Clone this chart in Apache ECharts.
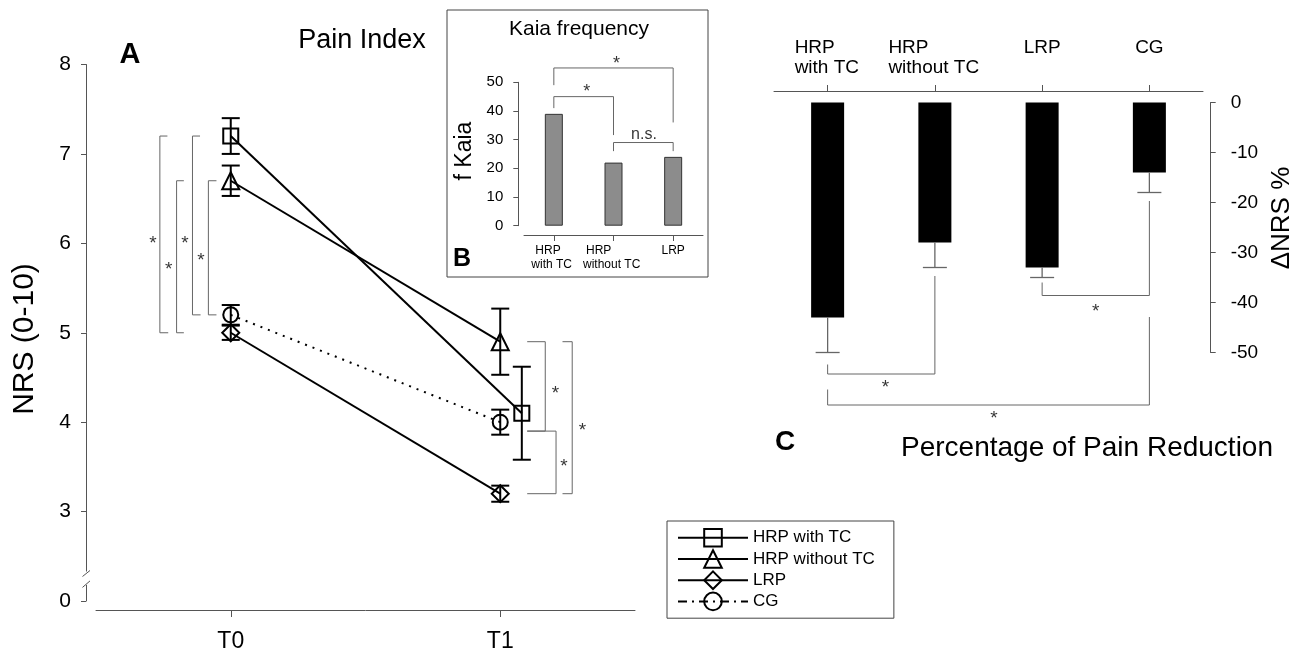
<!DOCTYPE html>
<html><head><meta charset="utf-8">
<script src="https://cdn.jsdelivr.net/npm/echarts@6/dist/echarts.min.js"></script>
<style>html,body{margin:0;padding:0;background:#fff}#c{width:1298px;height:656px}</style>
</head><body><div id="c"></div>
<script>
// ---------------- data ----------------
const timeLabels = ['T0', 'T1'];
const groupNames = ['HRP with TC', 'HRP without TC', 'LRP', 'CG'];
const nrsT0 = [7.2, 6.7, 5.0, 5.2];
const nrsT0Err = [0.2, 0.17, 0.08, 0.11];
const nrsT1 = [4.1, 4.9, 3.2, 4.0];
const nrsT1Err = [0.52, 0.37, 0.09, 0.14];
const nrsTickLabels = { 2: '0', 3: '3', 4: '4', 5: '5', 6: '6', 7: '7', 8: '8' };
const kaiaGroups = ['HRP\nwith TC', 'HRP\nwithout TC', 'LRP'];
const kaiaFreq = [39, 22, 24];
const reduction = [-43, -28, -33, -14];
const reductionErr = [7, 5, 2, 4];

// ---------------- annotation geometry (data units) ----------------
const t1Dodge = [0.08, 0, 0, 0];
const bracketsA = [
  [[-0.235, 7.2], [-0.263, 7.2], [-0.263, 5.0], [-0.232, 5.0]],
  [[-0.174, 6.7], [-0.201, 6.7], [-0.201, 5.0], [-0.174, 5.0]],
  [[-0.114, 7.2], [-0.142, 7.2], [-0.142, 5.2], [-0.112, 5.2]],
  [[-0.053, 6.7], [-0.083, 6.7], [-0.083, 5.2], [-0.053, 5.2]],
  [[1.10, 4.9], [1.167, 4.9], [1.167, 3.9], [1.10, 3.9]],
  [[1.10, 3.9], [1.207, 3.9], [1.207, 3.2], [1.10, 3.2]],
  [[1.231, 4.9], [1.267, 4.9], [1.267, 3.2], [1.231, 3.2]]
];
const starsA = [[-0.289, 6.04, '*'], [-0.23, 5.75, '*'], [-0.17, 6.04, '*'], [-0.111, 5.85, '*'],
  [1.205, 4.36, '*'], [1.236, 3.55, '*'], [1.305, 3.95, '*']];
const bracketsB = [
  [[0, 49], [0, 55], [2, 55], [2, 36]],
  [[0, 41], [0, 45], [1, 45], [1, 31.6]],
  [[1, 26], [1, 29], [2, 29], [2, 26]]
];
const starsB = [[1.05, 57.7, '*'], [0.55, 48, '*'], [1.51, 31.6, 'n.s.']];
const bracketsC = [
  [[2, -36], [2, -38.6], [3, -38.6], [3, -19.7]],
  [[0, -52.4], [0, -54.3], [1, -54.3], [1, -34.7]],
  [[0, -57.4], [0, -60.5], [3, -60.5], [3, -42.9]]
];
const starsC = [[2.5, -41, '*'], [0.54, -56.2, '*'], [1.55, -62.4, '*']];

// ---------------- chart ----------------
const FONT = "'Liberation Sans', Arial, Helvetica, sans-serif";
const AX = '#555';
const chart = echarts.init(document.getElementById('c'));

const symbolsA = ['rect', 'triangle', 'diamond', 'circle'];
const symSizeA = [15, 17, 17, 15];

function errA(params, api) {
  const x = api.value(0), y = api.value(1), e = api.value(2);
  const t = api.coord([x, y + e]), b = api.coord([x, y - e]);
  const hw = 9, st = { stroke: '#000', lineWidth: 2 };
  return { type: 'group', children: [
    { type: 'line', shape: { x1: t[0], y1: t[1], x2: b[0], y2: b[1] }, style: st },
    { type: 'line', shape: { x1: t[0] - hw, y1: t[1], x2: t[0] + hw, y2: t[1] }, style: st },
    { type: 'line', shape: { x1: b[0] - hw, y1: b[1], x2: b[0] + hw, y2: b[1] }, style: st }
  ]};
}
function errC(params, api) {
  const i = api.value(0), v = api.value(1), e = api.value(2);
  const a = api.coord([i, v]), b = api.coord([i, v - e]);
  const st = { stroke: '#666', lineWidth: 1.3 };
  return { type: 'group', children: [
    { type: 'line', shape: { x1: a[0], y1: a[1], x2: b[0], y2: b[1] }, style: st },
    { type: 'line', shape: { x1: b[0] - 12, y1: b[1], x2: b[0] + 12, y2: b[1] }, style: st }
  ]};
}
function bracketSeries(list, xi, yi) {
  return list.map(pts => ({
    type: 'line', xAxisIndex: xi, yAxisIndex: yi, data: pts, symbol: 'none', clip: false,
    silent: true, lineStyle: { color: '#666', width: 1 }, z: 1, animation: false
  }));
}
function starSeries(list, xi, yi, fs) {
  return {
    type: 'scatter', xAxisIndex: xi, yAxisIndex: yi, clip: false, silent: true, symbolSize: 2,
    itemStyle: { color: 'rgba(0,0,0,0)' }, z: 5,
    data: list.map(s => ({ value: [s[0], s[1]], name: s[2] })),
    label: { show: true, position: 'inside', formatter: p => p.name, color: '#000', fontSize: fs, fontFamily: FONT, offset: [0, 4] }
  };
}

const errDataA = [];
groupNames.forEach((g, i) => {
  errDataA.push([0, nrsT0[i], nrsT0Err[i]]);
  errDataA.push([1 + t1Dodge[i], nrsT1[i], nrsT1Err[i]]);
});

const lineSeriesA = groupNames.map((g, i) => ({
  type: 'line', name: g, xAxisIndex: 0, yAxisIndex: 0,
  data: [[0, nrsT0[i]], [1 + t1Dodge[i], nrsT1[i]]],
  symbol: symbolsA[i], symbolSize: symSizeA[i], z: 4,
  itemStyle: { color: 'rgba(255,255,255,0)', borderColor: '#000', borderWidth: 2 },
  lineStyle: { color: '#000', width: 2, type: i === 3 ? [2, 6] : 'solid' },
  emphasis: { disabled: true }
}));

const labelC = {
  'HRP with TC': '{w1|HRP}\n{w1|with TC}',
  'HRP without TC': '{w2|HRP}\n{w2|without TC}',
  'LRP': '{s|LRP}\n{s| }',
  'CG': '{s|CG}\n{s| }'
};
const labelB = {
  'HRP\nwith TC': '{h1|HRP}\n{b1|with TC}',
  'HRP\nwithout TC': '{h2|HRP}\n{b2|without TC}',
  'LRP': '{s|LRP}\n{s| }'
};

const option = {
  animation: false,
  backgroundColor: '#fff',
  textStyle: { fontFamily: FONT },
  grid: [
    { left: 96, right: 663, top: 64.5, bottom: 55, outerBoundsMode: 'none', containLabel: false },
    { left: 524, right: 595, top: 82.3, bottom: 430.3, outerBoundsMode: 'none', containLabel: false },
    { left: 774, right: 95, top: 102.5, bottom: 303.5, outerBoundsMode: 'none', containLabel: false }
  ],
  xAxis: [
    { gridIndex: 0, type: 'value', min: -0.5, max: 1.5, offset: 9,
      axisLine: { show: true, onZero: false, lineStyle: { color: AX, width: 1 } },
      axisTick: { show: true, customValues: [0, 1], length: 7, lineStyle: { color: AX } },
      axisLabel: { customValues: [0, 1], formatter: v => timeLabels[Math.round(v)], fontSize: 23, color: '#000', margin: 20, fontFamily: FONT },
      splitLine: { show: false } },
    { gridIndex: 1, type: 'category', data: kaiaGroups, offset: 9.3,
      axisLine: { show: true, onZero: false, lineStyle: { color: AX, width: 1 } },
      axisTick: { show: true, alignWithLabel: true, length: 6, lineStyle: { color: AX } },
      axisLabel: { interval: 0, color: '#000', fontSize: 12, margin: 9, fontFamily: FONT,
        formatter: v => labelB[v],
        rich: { h1: { width: 41, align: 'left', padding: [0, 0, 0, 4], fontSize: 12, lineHeight: 13.5 },
                b1: { width: 41, align: 'left', fontSize: 12, lineHeight: 13.5 },
                h2: { width: 58, align: 'left', padding: [0, 0, 0, 3], fontSize: 12, lineHeight: 13.5 },
                b2: { width: 58, align: 'left', fontSize: 12, lineHeight: 13.5 },
                s: { fontSize: 12, lineHeight: 13.5 } } },
      splitLine: { show: false } },
    { gridIndex: 2, type: 'category', data: groupNames, position: 'top', offset: 11.5,
      axisLine: { show: true, onZero: false, lineStyle: { color: AX, width: 1 } },
      axisTick: { show: true, alignWithLabel: true, length: 6, lineStyle: { color: AX } },
      axisLabel: { interval: 0, color: '#000', fontSize: 19, margin: 13, fontFamily: FONT,
        formatter: v => labelC[v],
        rich: { w1: { width: 66, align: 'left', fontSize: 19, lineHeight: 20 },
                w2: { width: 93, align: 'left', fontSize: 19, lineHeight: 20 },
                s: { fontSize: 19, lineHeight: 20 } } },
      splitLine: { show: false } },
    // hidden value axes for annotations positioned between categories
    { gridIndex: 1, type: 'value', min: -0.5, max: kaiaGroups.length - 0.5, show: false },
    { gridIndex: 2, type: 'value', min: -0.5, max: groupNames.length - 0.5, show: false }
  ],
  yAxis: [
    { gridIndex: 0, type: 'value', min: 2, max: 8, interval: 1, offset: 10,
      axisLine: { show: true, onZero: false, lineStyle: { color: AX, width: 1 } },
      axisTick: { show: true, length: 5, lineStyle: { color: AX } },
      axisLabel: { formatter: v => nrsTickLabels[v], fontSize: 21, color: '#000', margin: 15, fontFamily: FONT },
      splitLine: { show: false } },
    { gridIndex: 1, type: 'value', min: 0, max: 50, interval: 10, offset: 5.7,
      axisLine: { show: true, onZero: false, lineStyle: { color: AX, width: 1 } },
      axisTick: { show: true, length: 5, lineStyle: { color: AX } },
      axisLabel: { fontSize: 15, color: '#000', margin: 15, fontFamily: FONT },
      splitLine: { show: false } },
    { gridIndex: 2, type: 'value', min: -50, max: 0, interval: 10, position: 'right', offset: 7.7,
      axisLine: { show: true, onZero: false, lineStyle: { color: AX, width: 1 } },
      axisTick: { show: true, length: 5, lineStyle: { color: AX } },
      axisLabel: { fontSize: 19, color: '#000', margin: 20, fontFamily: FONT },
      splitLine: { show: false } }
  ],
  legend: {
    data: groupNames.map((g, i) => i === 3
      ? { name: g, lineStyle: { type: [9, 5, 2, 5], width: 2, color: '#000' } }
      : { name: g }),
    orient: 'vertical', left: 667, top: 521,
    itemWidth: 70, itemHeight: 22, itemGap: 1.6,
    padding: [7, 19, 7, 10], borderColor: '#444', borderWidth: 1,
    textStyle: { fontSize: 17, color: '#000', fontFamily: FONT },
    selectedMode: false
  },
  series: [
    ...bracketSeries(bracketsA, 0, 0),
    { type: 'custom', xAxisIndex: 0, yAxisIndex: 0, renderItem: errA, data: errDataA, z: 2, silent: true,
      encode: { x: 0, y: 1 } },
    ...lineSeriesA,
    starSeries(starsA, 0, 0, 19),
    { type: 'bar', xAxisIndex: 1, yAxisIndex: 1, data: kaiaFreq, barWidth: 18, silent: true,
      itemStyle: { color: '#8c8c8c', borderColor: '#333', borderWidth: 1 } },
    ...bracketSeries(bracketsB, 3, 1),
    starSeries(starsB.slice(0, 2), 3, 1, 18),
    { type: 'scatter', xAxisIndex: 3, yAxisIndex: 1, clip: false, silent: true, symbolSize: 2,
      itemStyle: { color: 'rgba(0,0,0,0)' }, z: 5,
      data: starsB.slice(2).map(s => ({ value: [s[0], s[1]], name: s[2] })),
      label: { show: true, position: 'inside', formatter: p => p.name, color: '#000', fontSize: 16, fontFamily: FONT } },
    { type: 'bar', xAxisIndex: 2, yAxisIndex: 2, data: reduction, barWidth: 33, silent: true,
      itemStyle: { color: '#000' } },
    { type: 'custom', xAxisIndex: 2, yAxisIndex: 2, renderItem: errC, silent: true, clip: false,
      data: reduction.map((v, i) => [i, v, reductionErr[i]]), encode: { x: 0, y: 1 }, z: 3 },
    ...bracketSeries(bracketsC, 4, 2),
    starSeries(starsC, 4, 2, 19)
  ]
};
chart.setOption(option);

// ---------- text and decorations ----------
const axA = chart.convertToPixel({ gridIndex: 0 }, [-0.5, 2])[0] - 10;
const yUp = chart.convertToPixel({ gridIndex: 0 }, [0, 2.33])[1];
const yLo = chart.convertToPixel({ gridIndex: 0 }, [0, 2.18])[1];
function txt(id, x, y, text, size, opts) {
  return Object.assign({ type: 'text', id, x, y, z: 100,
    style: { text, fill: '#000', font: (opts && opts.bold ? 'bold ' : '') + size + 'px ' + FONT,
      textAlign: (opts && opts.align) || 'center', textVerticalAlign: 'middle' } },
    opts && opts.rot ? { rotation: opts.rot } : {});
}
chart.setOption({
  graphic: [
    { type: 'rect', id: 'brk', shape: { x: axA - 3, y: yUp, width: 6, height: yLo - yUp }, style: { fill: '#fff' }, z: 90 },
    { type: 'line', id: 's1', shape: { x1: axA - 3.5, y1: yUp + 5, x2: axA + 4, y2: yUp - 1 }, style: { stroke: AX, lineWidth: 1 }, z: 91 },
    { type: 'line', id: 's2', shape: { x1: axA - 3.5, y1: yLo + 2.5, x2: axA + 4, y2: yLo - 4 }, style: { stroke: AX, lineWidth: 1 }, z: 91 },
    { type: 'rect', id: 'boxB', shape: { x: 447, y: 10, width: 261, height: 267 }, style: { fill: 'none', stroke: '#444', lineWidth: 1 }, z: 0 },
    txt('tA', 130, 55, 'A', 29, { bold: true }),
    txt('tPain', 362, 41, 'Pain Index', 27),
    txt('tNRS', 25, 339, 'NRS (0-10)', 30, { rot: Math.PI / 2 }),
    txt('tKaia', 579, 29, 'Kaia frequency', 21),
    txt('tfK', 465, 151, 'f Kaia', 23, { rot: Math.PI / 2 }),
    txt('tB', 462, 259, 'B', 25, { bold: true }),
    txt('tDNRS', 1282, 218, 'ΔNRS %', 26, { rot: Math.PI / 2 }),
    txt('tC', 785, 442, 'C', 28, { bold: true }),
    txt('tPct', 1087, 448, 'Percentage of Pain Reduction', 28)
  ]
});
</script></body></html>
